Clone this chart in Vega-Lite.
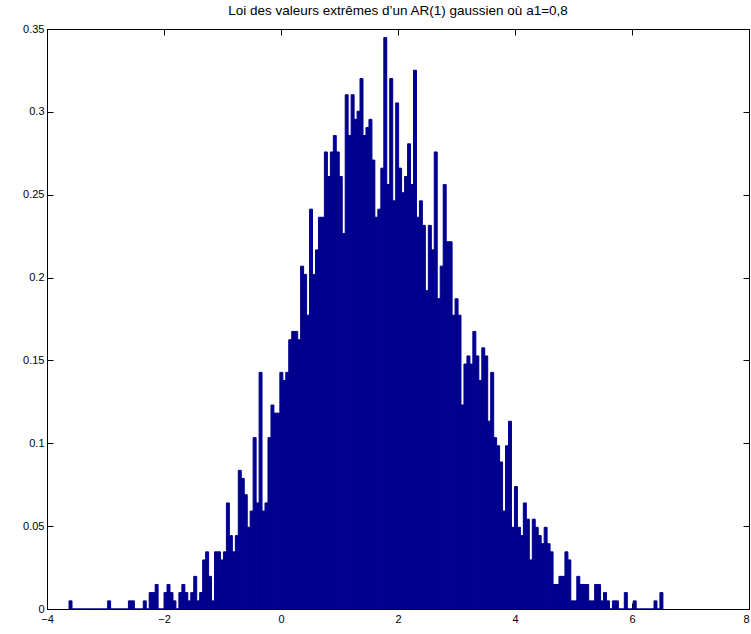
{
  "$schema": "https://vega.github.io/schema/vega-lite/v6.json",
  "width": 702,
  "height": 580,
  "autosize": "none",
  "padding": {"left": 47, "top": 29, "right": 2, "bottom": 25},
  "background": "white",
  "title": {"text": "Loi des valeurs extrêmes d’un AR(1) gaussien où a1=0,8", "font": "Liberation Sans", "fontSize": 13.5, "fontWeight": "normal", "color": "black", "offset": 6},
  "config": {
    "view": {"stroke": "black", "strokeWidth": 1},
    "axis": {"grid": false, "domainColor": "black", "tickColor": "black", "tickWidth": 1, "labelColor": "black", "labelFont": "Liberation Sans", "labelFontSize": 11, "tickSize": -6, "domain": true, "format": "~g"}
  },
  "data": {"values": [
{"x0":-3.632,"x1":-3.581,"y":0.0049},{"x0":-3.581,"x1":-3.530,"y":0},{"x0":-3.530,"x1":-3.480,"y":0},{"x0":-3.480,"x1":-3.429,"y":0},{"x0":-3.429,"x1":-3.378,"y":0},{"x0":-3.378,"x1":-3.327,"y":0},{"x0":-3.327,"x1":-3.277,"y":0},{"x0":-3.277,"x1":-3.226,"y":0},{"x0":-3.226,"x1":-3.175,"y":0},{"x0":-3.175,"x1":-3.124,"y":0},
{"x0":-3.124,"x1":-3.074,"y":0},{"x0":-3.074,"x1":-3.023,"y":0},{"x0":-3.023,"x1":-2.972,"y":0},{"x0":-2.972,"x1":-2.921,"y":0.0049},{"x0":-2.921,"x1":-2.871,"y":0},{"x0":-2.871,"x1":-2.820,"y":0},{"x0":-2.820,"x1":-2.769,"y":0},{"x0":-2.769,"x1":-2.718,"y":0},{"x0":-2.718,"x1":-2.668,"y":0},{"x0":-2.668,"x1":-2.617,"y":0},
{"x0":-2.617,"x1":-2.566,"y":0.0049},{"x0":-2.566,"x1":-2.515,"y":0.0049},{"x0":-2.515,"x1":-2.465,"y":0},{"x0":-2.465,"x1":-2.414,"y":0},{"x0":-2.414,"x1":-2.363,"y":0},{"x0":-2.363,"x1":-2.312,"y":0.0049},{"x0":-2.312,"x1":-2.262,"y":0},{"x0":-2.262,"x1":-2.211,"y":0.0099},{"x0":-2.211,"x1":-2.160,"y":0.0099},{"x0":-2.160,"x1":-2.109,"y":0.0148},
{"x0":-2.109,"x1":-2.058,"y":0},{"x0":-2.058,"x1":-2.008,"y":0},{"x0":-2.008,"x1":-1.957,"y":0.0099},{"x0":-1.957,"x1":-1.906,"y":0.0148},{"x0":-1.906,"x1":-1.855,"y":0.0099},{"x0":-1.855,"x1":-1.805,"y":0.0049},{"x0":-1.805,"x1":-1.754,"y":0},{"x0":-1.754,"x1":-1.703,"y":0.0099},{"x0":-1.703,"x1":-1.652,"y":0.0148},{"x0":-1.652,"x1":-1.602,"y":0.0099},
{"x0":-1.602,"x1":-1.551,"y":0.0049},{"x0":-1.551,"x1":-1.500,"y":0.0099},{"x0":-1.500,"x1":-1.449,"y":0.0197},{"x0":-1.449,"x1":-1.399,"y":0.0049},{"x0":-1.399,"x1":-1.348,"y":0.0099},{"x0":-1.348,"x1":-1.297,"y":0.0296},{"x0":-1.297,"x1":-1.246,"y":0.0345},{"x0":-1.246,"x1":-1.196,"y":0.0197},{"x0":-1.196,"x1":-1.145,"y":0.0049},{"x0":-1.145,"x1":-1.094,"y":0.0345},
{"x0":-1.094,"x1":-1.043,"y":0.0345},{"x0":-1.043,"x1":-0.992,"y":0.0296},{"x0":-0.992,"x1":-0.942,"y":0.0345},{"x0":-0.942,"x1":-0.891,"y":0.0640},{"x0":-0.891,"x1":-0.840,"y":0.0443},{"x0":-0.840,"x1":-0.789,"y":0.0345},{"x0":-0.789,"x1":-0.739,"y":0.0443},{"x0":-0.739,"x1":-0.688,"y":0.0837},{"x0":-0.688,"x1":-0.637,"y":0.0788},{"x0":-0.637,"x1":-0.586,"y":0.0690},
{"x0":-0.586,"x1":-0.536,"y":0.0493},{"x0":-0.536,"x1":-0.485,"y":0.0591},{"x0":-0.485,"x1":-0.434,"y":0.1034},{"x0":-0.434,"x1":-0.383,"y":0.0640},{"x0":-0.383,"x1":-0.333,"y":0.1428},{"x0":-0.333,"x1":-0.282,"y":0.0591},{"x0":-0.282,"x1":-0.231,"y":0.0640},{"x0":-0.231,"x1":-0.180,"y":0.1034},{"x0":-0.180,"x1":-0.130,"y":0.1231},{"x0":-0.130,"x1":-0.079,"y":0.1182},
{"x0":-0.079,"x1":-0.028,"y":0.1182},{"x0":-0.028,"x1":0.023,"y":0.1428},{"x0":0.023,"x1":0.073,"y":0.1379},{"x0":0.073,"x1":0.124,"y":0.1428},{"x0":0.124,"x1":0.175,"y":0.1625},{"x0":0.175,"x1":0.226,"y":0.1675},{"x0":0.226,"x1":0.277,"y":0.1675},{"x0":0.277,"x1":0.327,"y":0.1625},{"x0":0.327,"x1":0.378,"y":0.2069},{"x0":0.378,"x1":0.429,"y":0.2019},
{"x0":0.429,"x1":0.480,"y":0.1773},{"x0":0.480,"x1":0.530,"y":0.2413},{"x0":0.530,"x1":0.581,"y":0.2019},{"x0":0.581,"x1":0.632,"y":0.2167},{"x0":0.632,"x1":0.683,"y":0.2364},{"x0":0.683,"x1":0.733,"y":0.2364},{"x0":0.733,"x1":0.784,"y":0.2758},{"x0":0.784,"x1":0.835,"y":0.2610},{"x0":0.835,"x1":0.886,"y":0.2758},{"x0":0.886,"x1":0.936,"y":0.2857},
{"x0":0.936,"x1":0.987,"y":0.2758},{"x0":0.987,"x1":1.038,"y":0.2610},{"x0":1.038,"x1":1.089,"y":0.2266},{"x0":1.089,"x1":1.139,"y":0.3103},{"x0":1.139,"x1":1.190,"y":0.2857},{"x0":1.190,"x1":1.241,"y":0.3103},{"x0":1.241,"x1":1.292,"y":0.2955},{"x0":1.292,"x1":1.342,"y":0.3004},{"x0":1.342,"x1":1.393,"y":0.3201},{"x0":1.393,"x1":1.444,"y":0.2857},
{"x0":1.444,"x1":1.495,"y":0.2906},{"x0":1.495,"x1":1.546,"y":0.2955},{"x0":1.546,"x1":1.596,"y":0.2709},{"x0":1.596,"x1":1.647,"y":0.2364},{"x0":1.647,"x1":1.698,"y":0.2413},{"x0":1.698,"x1":1.749,"y":0.2660},{"x0":1.749,"x1":1.799,"y":0.3448},{"x0":1.799,"x1":1.850,"y":0.2561},{"x0":1.850,"x1":1.901,"y":0.3201},{"x0":1.901,"x1":1.952,"y":0.2463},
{"x0":1.952,"x1":2.002,"y":0.3054},{"x0":2.002,"x1":2.053,"y":0.2660},{"x0":2.053,"x1":2.104,"y":0.2512},{"x0":2.104,"x1":2.155,"y":0.2610},{"x0":2.155,"x1":2.205,"y":0.2807},{"x0":2.205,"x1":2.256,"y":0.2561},{"x0":2.256,"x1":2.307,"y":0.3251},{"x0":2.307,"x1":2.358,"y":0.2364},{"x0":2.358,"x1":2.408,"y":0.2463},{"x0":2.408,"x1":2.459,"y":0.2315},
{"x0":2.459,"x1":2.510,"y":0.1921},{"x0":2.510,"x1":2.561,"y":0.2315},{"x0":2.561,"x1":2.611,"y":0.2167},{"x0":2.611,"x1":2.662,"y":0.2758},{"x0":2.662,"x1":2.713,"y":0.1872},{"x0":2.713,"x1":2.764,"y":0.2069},{"x0":2.764,"x1":2.815,"y":0.2561},{"x0":2.815,"x1":2.865,"y":0.2216},{"x0":2.865,"x1":2.916,"y":0.2216},{"x0":2.916,"x1":2.967,"y":0.1773},
{"x0":2.967,"x1":3.018,"y":0.1872},{"x0":3.018,"x1":3.068,"y":0.1773},{"x0":3.068,"x1":3.119,"y":0.1231},{"x0":3.119,"x1":3.170,"y":0.1478},{"x0":3.170,"x1":3.221,"y":0.1527},{"x0":3.221,"x1":3.271,"y":0.1478},{"x0":3.271,"x1":3.322,"y":0.1675},{"x0":3.322,"x1":3.373,"y":0.1527},{"x0":3.373,"x1":3.424,"y":0.1379},{"x0":3.424,"x1":3.474,"y":0.1576},
{"x0":3.474,"x1":3.525,"y":0.1527},{"x0":3.525,"x1":3.576,"y":0.1133},{"x0":3.576,"x1":3.627,"y":0.1428},{"x0":3.627,"x1":3.677,"y":0.1034},{"x0":3.677,"x1":3.728,"y":0.0985},{"x0":3.728,"x1":3.779,"y":0.0887},{"x0":3.779,"x1":3.830,"y":0.0591},{"x0":3.830,"x1":3.880,"y":0.0985},{"x0":3.880,"x1":3.931,"y":0.1133},{"x0":3.931,"x1":3.982,"y":0.0493},
{"x0":3.982,"x1":4.033,"y":0.0739},{"x0":4.033,"x1":4.084,"y":0.0493},{"x0":4.084,"x1":4.134,"y":0.0443},{"x0":4.134,"x1":4.185,"y":0.0640},{"x0":4.185,"x1":4.236,"y":0.0542},{"x0":4.236,"x1":4.287,"y":0.0296},{"x0":4.287,"x1":4.337,"y":0.0542},{"x0":4.337,"x1":4.388,"y":0.0493},{"x0":4.388,"x1":4.439,"y":0.0443},{"x0":4.439,"x1":4.490,"y":0.0394},
{"x0":4.490,"x1":4.540,"y":0.0493},{"x0":4.540,"x1":4.591,"y":0.0394},{"x0":4.591,"x1":4.642,"y":0.0345},{"x0":4.642,"x1":4.693,"y":0.0148},{"x0":4.693,"x1":4.743,"y":0.0148},{"x0":4.743,"x1":4.794,"y":0.0197},{"x0":4.794,"x1":4.845,"y":0.0197},{"x0":4.845,"x1":4.896,"y":0.0345},{"x0":4.896,"x1":4.946,"y":0.0296},{"x0":4.946,"x1":4.997,"y":0.0049},
{"x0":4.997,"x1":5.048,"y":0.0049},{"x0":5.048,"x1":5.099,"y":0.0197},{"x0":5.099,"x1":5.149,"y":0.0148},{"x0":5.149,"x1":5.200,"y":0.0148},{"x0":5.200,"x1":5.251,"y":0.0148},{"x0":5.251,"x1":5.302,"y":0.0049},{"x0":5.302,"x1":5.353,"y":0.0049},{"x0":5.353,"x1":5.403,"y":0.0148},{"x0":5.403,"x1":5.454,"y":0.0148},{"x0":5.454,"x1":5.505,"y":0.0049},
{"x0":5.505,"x1":5.556,"y":0.0099},{"x0":5.556,"x1":5.606,"y":0.0049},{"x0":5.606,"x1":5.657,"y":0},{"x0":5.657,"x1":5.708,"y":0.0049},{"x0":5.708,"x1":5.759,"y":0.0049},{"x0":5.759,"x1":5.809,"y":0},{"x0":5.809,"x1":5.860,"y":0},{"x0":5.860,"x1":5.911,"y":0.0099},{"x0":5.911,"x1":5.962,"y":0},{"x0":5.962,"x1":6.012,"y":0},
{"x0":6.012,"x1":6.063,"y":0.0049},{"x0":6.063,"x1":6.114,"y":0},{"x0":6.114,"x1":6.165,"y":0},{"x0":6.165,"x1":6.215,"y":0},{"x0":6.215,"x1":6.266,"y":0},{"x0":6.266,"x1":6.317,"y":0},{"x0":6.317,"x1":6.368,"y":0},{"x0":6.368,"x1":6.418,"y":0.0049},{"x0":6.418,"x1":6.469,"y":0},{"x0":6.469,"x1":6.520,"y":0.0099}
  ]},
  "layer": [
    {
      "mark": {"type": "bar", "color": "#00008F", "stroke": "#00008F", "strokeWidth": 1, "binSpacing": 0, "clip": true},
      "encoding": {
        "x": {"field": "x0", "type": "quantitative", "bin": "binned", "scale": {"domain": [-4, 8], "nice": false, "zero": false}, "axis": {"orient": "bottom", "title": null, "values": [-4, -2, 0, 2, 4, 6, 8], "labelPadding": 10, "labelFlush": false, "labelAlign": {"condition": {"test": "datum.value == 8", "value": "right"}, "value": "center"}}},
        "x2": {"field": "x1"},
        "y": {"field": "y", "type": "quantitative", "scale": {"domain": [0, 0.35], "nice": false}, "axis": {"orient": "left", "title": null, "values": [0, 0.05, 0.1, 0.15, 0.2, 0.25, 0.3, 0.35], "labelPadding": 9, "labelFlush": false}}
      }
    },
    {
      "mark": {"type": "bar", "opacity": 0, "binSpacing": 0},
      "encoding": {
        "x": {"field": "x0", "type": "quantitative", "bin": "binned", "axis": {"orient": "top", "title": null, "labels": false, "values": [-4, -2, 0, 2, 4, 6, 8]}},
        "x2": {"field": "x1"},
        "y": {"field": "y", "type": "quantitative", "axis": {"orient": "right", "title": null, "labels": false, "values": [0, 0.05, 0.1, 0.15, 0.2, 0.25, 0.3, 0.35]}}
      }
    }
  ],
  "resolve": {"axis": {"x": "independent", "y": "independent"}}
}
